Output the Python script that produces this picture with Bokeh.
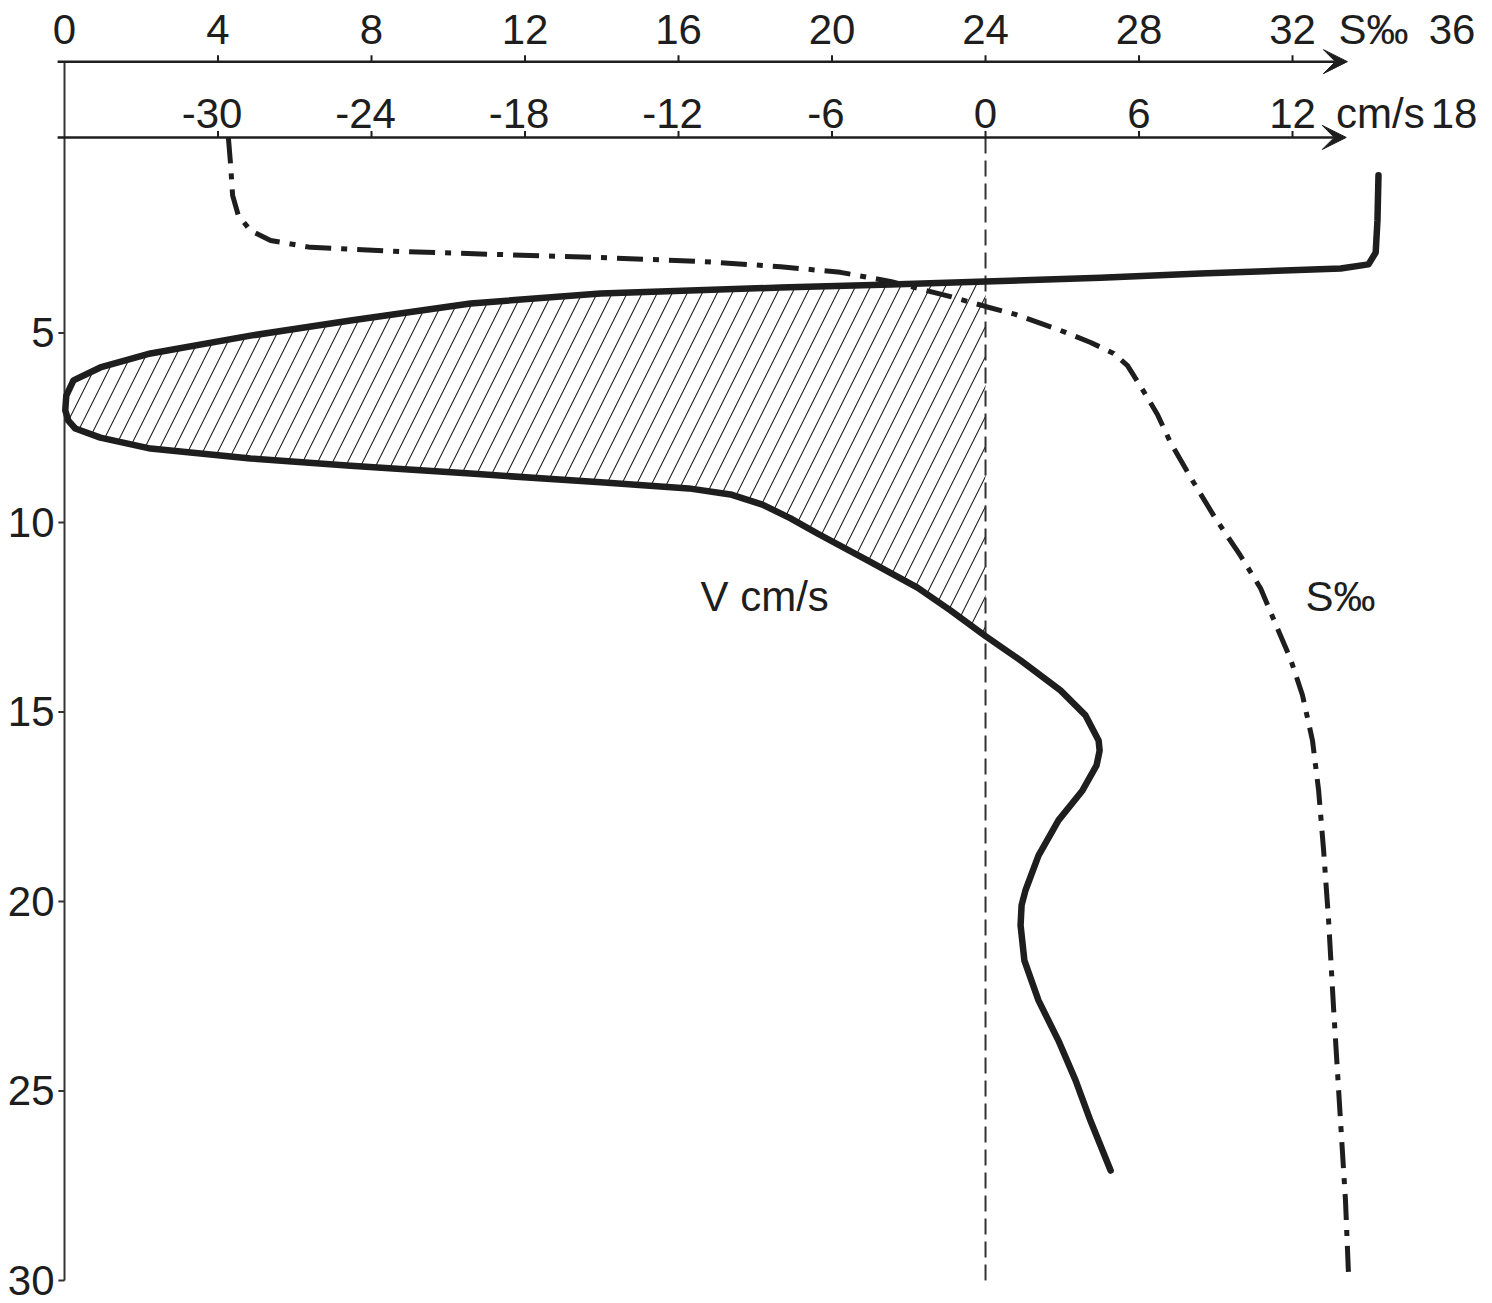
from bokeh.plotting import figure
from bokeh.models import Range1d, Arrow, VeeHead, ColumnDataSource
from bokeh.core.properties import value
from bokeh.embed import file_html
from bokeh.resources import INLINE

# ---------------- data ----------------
# velocity profile V (cm/s) against depth
vel_depth = [0.84, 2.03, 2.88, 3.19, 3.30, 3.43, 3.54, 3.64, 3.72, 3.80, 3.96, 4.22,
             4.67, 5.07, 5.54, 5.91, 6.25, 6.65, 7.04, 7.31, 7.52, 7.76, 8.05, 8.31,
             8.50, 8.71, 8.94, 9.10, 9.26, 9.53, 9.89, 10.29, 11.00, 11.72, 12.32, 13.00,
             13.64, 14.43, 15.09, 15.75, 16.02, 16.41, 17.07, 17.86, 18.79, 19.71, 20.10,
             20.63, 21.56, 22.61, 23.67, 24.72, 25.78, 27.10]
vel_cms = [15.36, 15.32, 15.25, 14.97, 13.88, 8.40, 4.50, 0.0, -3.71, -8.01, -15.05,
           -20.13, -24.82, -28.73, -32.64, -34.60, -35.65, -35.93, -35.97, -35.85,
           -35.58, -34.60, -32.64, -28.73, -24.82, -20.13, -15.05, -11.60, -9.97,
           -8.72, -7.62, -6.57, -4.61, -2.66, -1.37, 0.0, 1.37, 2.93, 3.91, 4.42, 4.46,
           4.34, 3.79, 2.85, 2.07, 1.56, 1.41, 1.37, 1.52, 2.07, 2.85, 3.52, 4.10, 4.89]

# salinity profile S (per mille) against depth
sal_depth = [-0.16, 0.58, 1.37, 1.90, 2.30, 2.56, 2.74, 2.85, 2.93, 3.01, 3.11, 3.25,
             3.40, 3.64, 4.04, 4.30, 4.51, 4.93, 5.25, 5.54, 5.86, 6.54, 7.15, 7.89,
             8.94, 9.89, 10.87, 11.74, 12.80, 13.61, 14.56, 15.75, 17.07, 18.65,
             20.50, 22.82, 25.78, 27.89, 29.87]
sal_ppt = [4.27, 4.33, 4.38, 4.53, 4.85, 5.37, 6.41, 8.76, 11.36, 13.97, 16.57, 18.66,
           20.22, 21.52, 23.09, 24.00, 24.78, 25.95, 26.74, 27.34, 27.70, 28.12, 28.48,
           28.82, 29.42, 29.99, 30.64, 31.17, 31.61, 31.95, 32.26, 32.52, 32.68, 32.81,
           32.94, 33.07, 33.25, 33.38, 33.46]

s_tick_values = [0, 4, 8, 12, 16, 20, 24, 28, 32, 36]
s_tick_labels = ["0", "4", "8", "12", "16", "20", "24", "28", "32", "36"]
s_tick_marks = [4, 8, 12, 16, 20, 24, 28, 32]

v_tick_values = [-30, -24, -18, -12, -6, 0, 6, 12, 18]
v_tick_labels = ["-30", "-24", "-18", "-12", "-6", "0", "6", "12", "18"]
v_tick_marks = [-30, -24, -18, -12, -6, 0, 6, 12]

depth_ticks = [5, 10, 15, 20, 25, 30]
depth_tick_labels = ["5", "10", "15", "20", "25", "30"]

# ---------------- styling / layout constants ----------------
FONT = "Liberation Sans"
FS = "42px"
INK = "#1e1e1e"
S_AXIS_D = -2.16      # depth level of the salinity axis
V_AXIS_D = -0.16      # depth level of the velocity axis
S_LABEL_D = -3.0      # depth level of the salinity tick labels (centre)
V_LABEL_D = -0.80     # depth level of the velocity tick labels (centre)
TICK_D = 0.17         # tick length (depth units) on the top axes
TICK_S = 0.16         # tick length (S units) on the depth axis
AXIS_START = -0.18    # top axis lines begin a little left of the depth axis
S_ARROW_END = 33.43
V_ARROW_END = 14.1

p = figure(width=1492, height=1303,
           x_range=Range1d(-1.668, 37.211), y_range=Range1d(30.607, -3.773),
           output_backend="svg", toolbar_location=None,
           x_axis_location=None, y_axis_location=None,
           min_border_left=0, min_border_right=0,
           min_border_top=0, min_border_bottom=0)
p.extra_x_ranges = {"v": Range1d(-1.668 * 1.5 - 36, 37.211 * 1.5 - 36)}
p.grid.visible = False
p.outline_line_color = None
p.background_fill_color = "white"
p.border_fill_color = "white"

txt = dict(text_font=value(FONT), text_font_size=value(FS), text_color=INK)

# ---- depth axis (left) ----
p.segment(x0=[0], y0=[S_AXIS_D], x1=[0], y1=[max(depth_ticks)],
          line_color="#333333", line_width=2)
p.segment(x0=[0] * len(depth_ticks), y0=depth_ticks,
          x1=[-TICK_S] * len(depth_ticks), y1=depth_ticks,
          line_color="#333333", line_width=2)
d_src = ColumnDataSource(dict(x=[0] * len(depth_ticks), y=depth_ticks, t=depth_tick_labels))
p.text(x="x", y="y", text="t", source=d_src, text_align="right",
       text_baseline="middle", x_offset=-10, **txt)

# hatched area where velocity is negative
i0 = vel_cms.index(0.0)
i1 = len(vel_cms) - 1 - vel_cms[::-1].index(0.0)
p.patch(x=vel_cms[i0:i1 + 1], y=vel_depth[i0:i1 + 1], x_range_name="v",
        fill_color=None, line_color=None,
        hatch_pattern="/", hatch_color="#222222", hatch_weight=1.1, hatch_scale=30)

# zero-velocity dashed line
p.segment(x0=[0], y0=[V_AXIS_D], x1=[0], y1=[max(depth_ticks)], x_range_name="v",
          line_color="#333333", line_width=2, line_dash="16 7")

# salinity curve (dash-dot)
p.line(sal_ppt, sal_depth, line_color=INK, line_width=5, line_dash="26 10 6 10")

# velocity curve
p.line(vel_cms, vel_depth, x_range_name="v", line_color=INK, line_width=6.5,
       line_join="round", line_cap="round")

# ---- top axes: lines with arrows ----
p.add_layout(Arrow(end=VeeHead(size=24, fill_color=INK, line_color=INK, line_width=1),
                   x_start=AXIS_START, y_start=S_AXIS_D, x_end=S_ARROW_END, y_end=S_AXIS_D,
                   line_width=2.5, line_color=INK))
p.add_layout(Arrow(end=VeeHead(size=24, fill_color=INK, line_color=INK, line_width=1),
                   x_start=AXIS_START * 1.5 - 36, y_start=V_AXIS_D,
                   x_end=V_ARROW_END, y_end=V_AXIS_D,
                   x_range_name="v", line_width=2.5, line_color=INK))

# tick marks
p.segment(x0=s_tick_marks, y0=[S_AXIS_D] * len(s_tick_marks),
          x1=s_tick_marks, y1=[S_AXIS_D - TICK_D] * len(s_tick_marks),
          line_color=INK, line_width=2)
p.segment(x0=v_tick_marks, y0=[V_AXIS_D] * len(v_tick_marks),
          x1=v_tick_marks, y1=[V_AXIS_D - TICK_D] * len(v_tick_marks),
          x_range_name="v", line_color=INK, line_width=2)

# tick labels (the end labels sit a little right of their nominal place)
s_src = ColumnDataSource(dict(x=s_tick_values, y=[S_LABEL_D] * len(s_tick_values),
                              t=s_tick_labels,
                              xo=[6 if s == max(s_tick_values) else 0 for s in s_tick_values]))
p.text(x="x", y="y", text="t", source=s_src, text_align="center",
       text_baseline="middle", x_offset="xo", **txt)

v_src = ColumnDataSource(dict(x=v_tick_values, y=[V_LABEL_D] * len(v_tick_values),
                              t=v_tick_labels,
                              xo=[-6 if v < 0 else (8 if v == max(v_tick_values) else 0)
                                  for v in v_tick_values]))
p.text(x="x", y="y", text="t", source=v_src, x_range_name="v",
       text_align="center", text_baseline="middle", x_offset="xo", **txt)

# axis unit labels
p.text(x=[33.2], y=[S_LABEL_D], text=["S‰"], text_align="left",
       text_baseline="middle", **txt)
p.text(x=[13.7], y=[V_LABEL_D], text=["cm/s"], x_range_name="v",
       text_align="left", text_baseline="middle", **txt)

# curve labels
p.text(x=[-11.14], y=[11.95], text=["V cm/s"], x_range_name="v",
       text_align="left", text_baseline="middle", **txt)
p.text(x=[32.34], y=[11.95], text=["S‰"],
       text_align="left", text_baseline="middle", **txt)

open("out.html", "w").write(file_html(p, INLINE))
